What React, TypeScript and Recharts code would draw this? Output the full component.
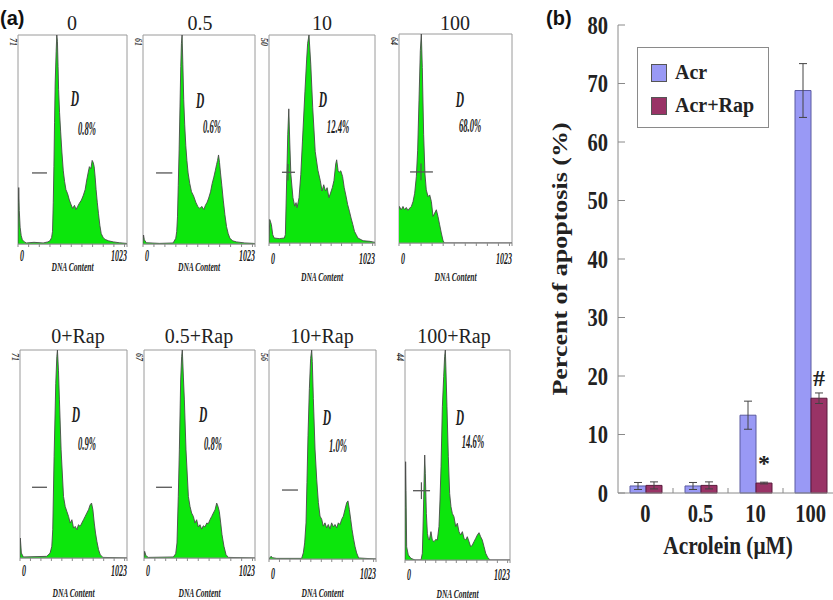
import React from 'react';
import {
  AreaChart,
  Area,
  BarChart,
  Bar,
  ErrorBar,
  LabelList,
  Legend,
  XAxis,
  YAxis,
  ReferenceArea,
  ReferenceLine,
  ReferenceDot,
} from 'recharts';

// ---- panel (a): DNA content histograms, [channel, relative count] ----
const hist0: [number, number][] = [
  [0, 0], [4, 20], [7, 27], [12, 16], [20, 8], [30, 4], [41, 2], [60, 1], [79, 0.5], [150, 0.8], [236, 0.5],
  [280, 1], [299, 1.5], [315, 3], [324, 6], [331, 20], [337, 37], [343, 58], [349, 77], [358, 92], [364, 100],
  [370, 97], [376, 85], [381, 74], [390, 63], [400, 54], [412, 44], [425, 35], [437, 30], [450, 26], [466, 24],
  [482, 21], [497, 19], [513, 17], [530, 18.5], [545, 16.5], [560, 18], [576, 19.5], [595, 21], [614, 23.4],
  [630, 26], [645, 30.6], [658, 34], [670, 37], [684, 36], [696, 40], [706, 39], [715, 37], [724, 32], [733, 26],
  [744, 20], [755, 14.7], [768, 9], [781, 5], [800, 3], [818, 2.2], [850, 1.5], [897, 1], [950, 0.6], [1017, 0.3],
  [1023, 0],
];
const hist1: [number, number][] = [
  [0, 0], [5, 4.3], [12, 2], [31, 0.6], [150, 0.3], [275, 0.5], [299, 2.7], [308, 6], [315, 13], [322, 28],
  [330, 45], [338, 66], [345, 85], [351, 96], [357, 100], [364, 86], [372, 69], [381, 57], [391, 47], [401, 40],
  [412, 34], [427, 29], [443, 25], [462, 23], [482, 20], [500, 18], [519, 17], [537, 18], [556, 16.5], [570, 18.5],
  [586, 20], [600, 22], [617, 25], [632, 29], [647, 32], [660, 35], [672, 38], [681, 40], [690, 42.6], [699, 39],
  [708, 34], [720, 28], [733, 21], [748, 14], [763, 8.3], [778, 5], [794, 2.7], [820, 1.5], [855, 1], [930, 0.5],
  [1008, 0.3], [1023, 0],
];
const hist2: [number, number][] = [
  [0, 0], [7, 11.3], [23, 8.9], [36, 4], [50, 2.4], [99, 2.1], [148, 2.4], [158, 4], [172, 33], [181, 52],
  [191, 64.5], [201, 47.6], [211, 33], [231, 21.8], [248, 17.7], [261, 19.4], [271, 17], [290, 21.8], [307, 33],
  [323, 49], [347, 73], [363, 88], [373, 96], [386, 100], [403, 86], [422, 65], [446, 44], [472, 35], [495, 30],
  [512, 25], [528, 28], [545, 25], [561, 26.6], [578, 21.8], [594, 24], [611, 26.6], [627, 30], [644, 38],
  [653, 40], [667, 34.7], [677, 34], [693, 34.7], [710, 32], [726, 26.6], [743, 22.6], [759, 18.5], [776, 15.3],
  [792, 12], [809, 8.9], [825, 5.6], [842, 4], [858, 2.4], [908, 1.1], [974, 0.8], [1023, 0.3],
];
const hist3: [number, number][] = [
  [0, 16], [3, 17.5], [21, 15.9], [36, 17.5], [51, 15.9], [66, 17], [81, 15.6], [97, 16.7], [112, 17.5],
  [127, 19.8], [142, 23.8], [157, 31.7], [169, 44.4], [181, 68], [193, 92], [202, 100], [211, 84], [223, 52],
  [235, 33], [247, 25.4], [263, 22.2], [278, 23], [293, 19.8], [308, 12.7], [323, 14.3], [338, 15.9], [353, 12.7],
  [368, 8.7], [383, 4.8], [398, 1.3], [410, 0], [1023, 0],
];
const hist4: [number, number][] = [
  [0, 0], [3, 9.6], [13, 2.4], [32, 0.5], [256, 0.8], [288, 2.4], [304, 5.6], [313, 13.6], [326, 48.8], [342, 84],
  [352, 96.8], [358, 100], [368, 90], [377, 76], [393, 52], [416, 29.6], [432, 24.8], [448, 22.4], [464, 20],
  [480, 16.8], [496, 18.4], [512, 14.4], [528, 15.2], [544, 13.6], [559, 16], [575, 15.2], [591, 16.8], [607, 18.4],
  [623, 20], [639, 21.6], [655, 23.2], [671, 25.6], [684, 26.4], [697, 23.2], [710, 16.8], [722, 12], [735, 8],
  [751, 4], [767, 1.6], [793, 0.3], [1023, 0],
];
const hist5: [number, number][] = [
  [0, 0], [6, 3.2], [18, 1.1], [40, 0.3], [270, 0.5], [292, 2], [304, 7.2], [316, 29.6], [326, 52], [338, 85.6],
  [347, 96.8], [353, 100], [363, 87], [372, 76], [387, 52], [409, 29.6], [424, 24.8], [439, 21.6], [455, 20],
  [470, 16.8], [485, 18.4], [501, 14.9], [516, 16], [531, 13.9], [547, 15.5], [562, 14.9], [578, 16.8], [593, 16.5],
  [608, 18.4], [624, 20], [639, 21.6], [655, 23.2], [670, 26.4], [682, 24.8], [694, 22.4], [707, 16.8], [719, 11.2],
  [737, 5.6], [756, 1.6], [777, 0.3], [1023, 0],
];
const hist6: [number, number][] = [
  [0, 0], [19, 1.3], [35, 0.6], [73, 0.3], [312, 0.3], [328, 2.9], [341, 7.7], [354, 17.3], [363, 36.6], [373, 59],
  [386, 81.5], [398, 96], [408, 100], [414, 94.4], [424, 76.7], [440, 52.6], [456, 38.2], [472, 27], [488, 20.5],
  [504, 19], [519, 15.7], [535, 17.3], [551, 14.9], [567, 16.5], [583, 14.4], [599, 17.3], [615, 15.4], [631, 16.5],
  [647, 14.9], [663, 17.3], [679, 16.5], [695, 19], [711, 20.5], [727, 23.8], [743, 27], [755, 27.8], [768, 23.8],
  [781, 19], [794, 14.1], [807, 10.1], [822, 6.1], [838, 2.9], [857, 0.5], [1023, 0],
];
const hist7: [number, number][] = [
  [0, 0], [3, 25], [6, 46.8], [10, 33], [16, 6.3], [32, 2.4], [58, 0.8], [97, 0], [156, 0], [169, 3.2], [175, 14.3],
  [182, 28.6], [192, 50], [198, 41.3], [208, 22.2], [218, 12.7], [227, 10.3], [237, 9.5], [253, 13.5], [266, 9.5],
  [283, 8.7], [299, 9.8], [315, 9.5], [331, 15.9], [341, 28.6], [351, 44.4], [364, 73], [377, 87.3], [386, 96.8],
  [393, 100], [399, 90.5], [409, 73], [422, 49.2], [435, 31.7], [448, 25.4], [461, 22.2], [477, 20.6], [494, 15.9],
  [510, 17.5], [526, 13.5], [542, 11.9], [559, 13.5], [575, 10.3], [591, 9.5], [607, 11.1], [624, 8.7], [640, 6.3],
  [656, 7.1], [672, 8.7], [689, 10.3], [705, 11.9], [721, 13], [737, 11.1], [753, 9.5], [770, 6.3], [786, 3.2],
  [805, 1.3], [828, 0], [1023, 0],
];

const histograms = [hist0, hist1, hist2, hist3, hist4, hist5, hist6, hist7];
const histTitles = ['0', '0.5', '10', '100', '0+Rap', '0.5+Rap', '10+Rap', '100+Rap'];
const histPeaks = ['71', '61', '50', '64', '71', '67', '56', '44'];
const histApoptosis = ['0.8%', '0.6%', '12.4%', '68.0%', '0.9%', '0.8%', '1.0%', '14.6%'];
const channelTicks = [0, 100, 200, 300, 400, 500, 600, 700, 800, 900, 1000, 1023];
const countTicks = [14, 28, 42, 56, 70, 84, 98];

// layout of each small plot (page px) and where its notes sit (data coords)
const frames = [
  { left: 18, top: 35, w: 109, h: 209, tickDy: 17, labelDy: 27, titleX: 72, titleY: 30 },
  { left: 143, top: 35, w: 112, h: 209, tickDy: 17, labelDy: 27, titleX: 200, titleY: 30 },
  { left: 269, top: 35, w: 106, h: 208, tickDy: 21, labelDy: 38, titleX: 322, titleY: 30 },
  { left: 399, top: 34, w: 113, h: 209, tickDy: 21, labelDy: 38, titleX: 455, titleY: 30 },
  { left: 20, top: 350, w: 107, h: 208, tickDy: 18, labelDy: 39, titleX: 78, titleY: 343 },
  { left: 144, top: 350, w: 111, h: 208, tickDy: 18, labelDy: 39, titleX: 199, titleY: 343 },
  { left: 269, top: 350, w: 107, h: 209, tickDy: 20, labelDy: 38, titleX: 322, titleY: 343 },
  { left: 405, top: 350, w: 105, h: 210, tickDy: 20, labelDy: 38, titleX: 454, titleY: 343 },
];
const notes = [
  { dX: 535, dY: 70, pX: 648, pY: 55, gate: [131, 272, 34], cross: null },
  { dX: 521, dY: 69, pX: 630, pY: 56, gate: [119, 268, 34], cross: null },
  { dX: 521, dY: 69, pX: 666, pY: 56, gate: [125, 251, 34], cross: 183 },
  { dX: 552, dY: 69, pX: 643, pY: 56, gate: [100, 307, 34], cross: 199 },
  { dX: 535, dY: 69, pX: 641, pY: 55, gate: [115, 258, 34], cross: null },
  { dX: 544, dY: 69, pX: 636, pY: 55, gate: [111, 258, 34], cross: null },
  { dX: 554, dY: 68, pX: 660, pY: 54, gate: [124, 277, 33], cross: null },
  { dX: 536, dY: 68, pX: 662, pY: 56, gate: [78, 244, 33], cross: 160 },
];

// ---- panel (b): percent apoptosis ----
const doses = ['0', '0.5', '10', '100'];
const acr = [1.2, 1.2, 13.3, 68.8];
const acrErr = [0.6, 0.6, 2.4, 4.6];
const acrRap = [1.3, 1.3, 1.7, 16.2];
const acrRapErr = [0.6, 0.6, 0.15, 0.9];
const marks = ['', '', '*', '#'];
const pctTicks = [0, 10, 20, 30, 40, 50, 60, 70, 80];

const SERIF = '"Liberation Serif", "Times New Roman", serif';
const GREEN = '#0ce60c';
const BAND = 220 / doses.length;
const SQ = 0.82; // panel (b) type is a little narrow

const Squeezed = ({ x, y, size, k, anchor = 'middle', children }: any) => (
  <text
    transform={`translate(${x},${y}) scale(${k},1)`}
    textAnchor={anchor}
    fontFamily={SERIF}
    fontSize={size}
    fontStyle="italic"
    fontWeight="bold"
    fill="#222"
  >
    {children}
  </text>
);

const Histogram = ({ idx }: { idx: number }) => {
  const f = frames[idx];
  const n = notes[idx];
  const rows = histograms[idx].map(([ch, v]) => ({ ch, v }));
  const axisH = 44;

  const channelTick = (p: any) => {
    const v = p.payload.value;
    if (v !== 0 && v !== 1023) return <g />;
    const base = p.y - 5 + f.tickDy;
    return (
      <Squeezed x={v === 0 ? p.x + 2 : p.x} y={base} size={16} k={0.5} anchor={v === 0 ? 'start' : 'end'}>
        {v}
      </Squeezed>
    );
  };

  return (
    <div style={{ position: 'absolute', left: f.left - 1, top: f.top - 1 }}>
      <AreaChart width={f.w + 2} height={f.h + 1 + axisH} data={rows} margin={{ top: 1, right: 1, bottom: 0, left: 1 }}>
        <XAxis
          type="number"
          dataKey="ch"
          domain={[0, 1023]}
          ticks={channelTicks}
          interval={0}
          height={axisH}
          tickSize={3}
          stroke="#8a8a8a"
          tick={channelTick}
          allowDataOverflow
          label={{
            content: ({ viewBox }: any) => (
              <Squeezed x={viewBox.x + viewBox.width / 2} y={viewBox.y + f.labelDy} size={13} k={0.58}>
                DNA Content
              </Squeezed>
            ),
          }}
        />
        <YAxis
          type="number"
          domain={[0, 100]}
          ticks={countTicks}
          width={0}
          mirror
          tick={false}
          tickSize={3}
          axisLine={false}
          stroke="#8a8a8a"
          allowDataOverflow
        />
        <ReferenceArea x1={0} x2={1023} y1={0} y2={100} fill="none" stroke="#9a9a9a" strokeWidth={1} />
        <Area
          type="linear"
          dataKey="v"
          stroke="#4a4a4a"
          strokeWidth={0.9}
          fill={GREEN}
          fillOpacity={1}
          isAnimationActive={false}
        />
        <ReferenceLine
          segment={[{ x: n.gate[0], y: n.gate[2] }, { x: n.gate[1], y: n.gate[2] }]}
          stroke="#555"
          strokeWidth={1.3}
        />
        {n.cross !== null && (
          <ReferenceLine
            segment={[{ x: n.cross, y: n.gate[2] - 4 }, { x: n.cross, y: n.gate[2] + 4 }]}
            stroke="#555"
            strokeWidth={1.2}
          />
        )}
        <ReferenceDot
          x={n.dX}
          y={n.dY}
          r={0}
          fill="none"
          stroke="none"
          label={{
            content: ({ viewBox }: any) => (
              <Squeezed x={viewBox.x} y={viewBox.y + 8} size={23} k={0.5}>
                D
              </Squeezed>
            ),
          }}
        />
        <ReferenceDot
          x={n.pX}
          y={n.pY}
          r={0}
          fill="none"
          stroke="none"
          label={{
            content: ({ viewBox }: any) => (
              <Squeezed x={viewBox.x} y={viewBox.y + 6} size={18} k={0.48}>
                {histApoptosis[idx]}
              </Squeezed>
            ),
          }}
        />
      </AreaChart>
    </div>
  );
};

const BarLegend = ({ payload }: any) => (
  <div
    style={{
      width: 132,
      height: 81,
      boxSizing: 'border-box',
      border: '1px solid #8a8a8a',
      background: '#fff',
      padding: '8px 0 0 13px',
    }}
  >
    {(payload || []).map((e: any) => (
      <div key={e.value} style={{ display: 'flex', alignItems: 'center', height: 33 }}>
        <span
          style={{
            display: 'inline-block',
            width: 14,
            height: 16,
            background: e.color,
            border: '1px solid #555',
            marginRight: 8,
          }}
        />
        <span style={{ fontFamily: SERIF, fontWeight: 'bold', fontSize: 20, color: '#222' }}>{e.value}</span>
      </div>
    ))}
  </div>
);

const pctTick = (p: any) => {
  const ax = p.x + 10;
  return (
    <g>
      <line x1={ax} x2={ax + 7} y1={p.y} y2={p.y} stroke="#8a8a8a" />
      <text
        transform={`translate(${p.x},${p.y}) scale(${SQ},1)`}
        dy={8.5}
        textAnchor="end"
        fontFamily={SERIF}
        fontWeight="bold"
        fontSize={25}
        fill="#222"
      >
        {p.payload.value}
      </text>
    </g>
  );
};

const doseTick = (p: any) => (
  <g>
    {p.index < doses.length - 1 && (
      <line x1={p.x + BAND / 2} x2={p.x + BAND / 2} y1={p.y} y2={p.y - 5} stroke="#8a8a8a" />
    )}
    <text
      transform={`translate(${p.x},${p.y + 29}) scale(${SQ},1)`}
      textAnchor="middle"
      fontFamily={SERIF}
      fontWeight="bold"
      fontSize={25}
      fill="#222"
    >
      {p.payload.value}
    </text>
  </g>
);

const ApoptosisChart = () => {
  const rows = doses.map((d, i) => ({
    dose: d,
    acr: acr[i],
    acrErr: acrErr[i],
    rap: acrRap[i],
    rapErr: acrRapErr[i],
    mark: marks[i],
  }));

  return (
    <div style={{ position: 'absolute', left: 540, top: 0 }}>
      <BarChart width={300} height={600} data={rows} margin={{ top: 25, right: 2, bottom: 0, left: 0 }} barGap={0}>
        <XAxis
          dataKey="dose"
          height={107}
          interval={0}
          tickSize={0}
          tickMargin={0}
          tick={doseTick}
          stroke="#8a8a8a"
          label={{
            content: ({ viewBox }: any) => (
              <text
                transform={`translate(${viewBox.x + viewBox.width / 2},${viewBox.y + 61}) scale(${SQ},1)`}
                textAnchor="middle"
                fontFamily={SERIF}
                fontWeight="bold"
                fontSize={26}
                fill="#222"
              >
                Acrolein (μM)
              </text>
            ),
          }}
        />
        <YAxis
          domain={[0, 80]}
          ticks={pctTicks}
          width={78}
          interval={0}
          tickLine={false}
          tickSize={0}
          tickMargin={10}
          tick={pctTick}
          stroke="#8a8a8a"
          label={{
            content: ({ viewBox }: any) => {
              const cx = viewBox.x + 20;
              const cy = viewBox.y + viewBox.height / 2;
              return (
                <text
                  transform={`translate(${cx},${cy}) rotate(-90) scale(1,${SQ})`}
                  textAnchor="middle"
                  dominantBaseline="central"
                  fontFamily={SERIF}
                  fontWeight="bold"
                  fontSize={26}
                  fill="#222"
                >
                  Percent of apoptosis (%)
                </text>
              );
            },
          }}
        />
        <Legend
          layout="vertical"
          align="center"
          verticalAlign="middle"
          content={<BarLegend />}
          wrapperStyle={{ left: 97, top: 47, width: 132, height: 81 }}
        />
        <Bar dataKey="acr" name="Acr" fill="#9999f5" stroke="#5a5aa0" strokeWidth={1} barSize={16} isAnimationActive={false}>
          <ErrorBar dataKey="acrErr" width={4} stroke="#444" strokeWidth={1} />
        </Bar>
        <Bar dataKey="rap" name="Acr+Rap" fill="#993366" stroke="#5a1a3c" strokeWidth={1} barSize={16} isAnimationActive={false}>
          <ErrorBar dataKey="rapErr" width={4} stroke="#444" strokeWidth={1} />
          <LabelList dataKey="mark" position="top" offset={12} fontFamily={SERIF} fontWeight="bold" fontSize={24} fill="#222" />
        </Bar>
      </BarChart>
    </div>
  );
};

export default function App() {
  return (
    <div
      style={{
        position: 'fixed',
        left: 0,
        top: 0,
        width: 833,
        height: 600,
        overflow: 'hidden',
        background: '#fff',
      }}
    >
      {histograms.map((_, i) => (
        <Histogram key={i} idx={i} />
      ))}
      <ApoptosisChart />
      <svg width={833} height={600} style={{ position: 'absolute', left: 0, top: 0, pointerEvents: 'none' }}>
        <text x={0} y={25} fontFamily='"Liberation Sans", Arial, sans-serif' fontWeight="bold" fontSize={20} fill="#111">
          (a)
        </text>
        <text x={546} y={25} fontFamily='"Liberation Sans", Arial, sans-serif' fontWeight="bold" fontSize={20} fill="#111">
          (b)
        </text>
        {frames.map((f, i) => (
          <g key={i}>
            <text x={f.titleX} y={f.titleY} textAnchor="middle" fontFamily={SERIF} fontSize={20} fill="#222">
              {histTitles[i]}
            </text>
            <text
              transform={`translate(${f.left - 8},${f.top + 3}) rotate(90) scale(0.8,1)`}
              fontFamily={SERIF}
              fontStyle="italic"
              fontWeight="bold"
              fontSize={10}
              fill="#333"
            >
              {histPeaks[i]}
            </text>
          </g>
        ))}
      </svg>
    </div>
  );
}
